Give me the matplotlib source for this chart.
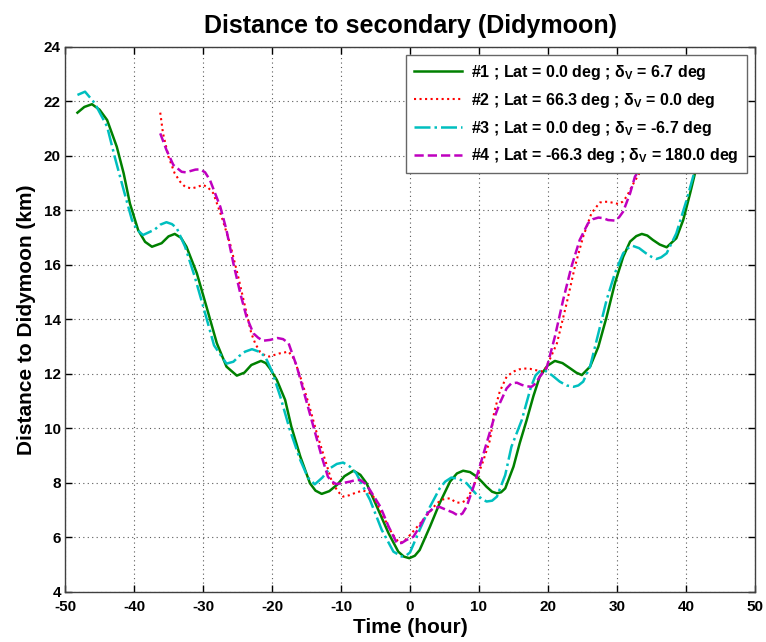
import matplotlib
matplotlib.use('Agg')
import matplotlib.pyplot as plt

# ---------------- DATA ((hour, km)) ----------------
case1 = [(-48.2, 21.59), (-47.2, 21.80), (-46.1, 21.90), (-45.0, 21.70), (-43.9, 21.32),
         (-42.5, 20.34), (-41.5, 19.36), (-40.6, 18.26), (-39.4, 17.28), (-38.4, 16.85),
         (-37.4, 16.67), (-36.0, 16.80), (-35.0, 17.05), (-34.1, 17.14), (-33.2, 17.00),
         (-32.4, 16.67), (-30.9, 15.70), (-29.5, 14.47), (-28.0, 13.13), (-26.6, 12.27),
         (-25.1, 11.94), (-24.0, 12.05), (-23.0, 12.33), (-21.6, 12.48), (-20.9, 12.40),
         (-20.3, 12.20), (-19.3, 11.78), (-18.1, 11.05), (-17.2, 10.07), (-15.9, 8.97),
         (-14.5, 7.99), (-13.7, 7.72), (-12.8, 7.60), (-11.7, 7.70), (-10.5, 7.95),
         (-9.5, 8.25), (-8.2, 8.45), (-7.2, 8.30), (-6.3, 7.99), (-4.8, 7.13),
         (-3.1, 6.15), (-1.7, 5.48), (-0.9, 5.30), (-0.1, 5.24), (0.7, 5.33),
         (1.4, 5.54), (2.9, 6.40), (4.3, 7.26), (5.8, 8.05), (6.8, 8.35),
         (7.7, 8.45), (8.7, 8.40), (9.7, 8.23), (10.4, 8.05), (11.1, 7.86),
         (11.9, 7.68), (12.6, 7.62), (13.2, 7.66), (13.8, 7.80), (15.0, 8.60),
         (15.9, 9.46), (16.9, 10.30), (17.9, 11.20), (18.8, 11.90), (19.9, 12.30),
         (21.0, 12.48), (22.1, 12.40), (23.2, 12.21), (24.1, 12.05), (24.9, 11.96),
         (26.1, 12.27), (27.3, 13.00), (28.5, 14.10), (29.7, 15.33), (30.9, 16.30),
         (31.9, 16.86), (32.8, 17.06), (33.6, 17.14), (34.4, 17.08), (35.2, 16.92),
         (36.2, 16.75), (37.2, 16.65), (38.6, 16.98), (39.6, 17.65), (40.6, 18.63),
         (41.3, 19.36), (42.5, 20.40), (44.0, 21.30), (46.0, 21.90), (48.0, 21.60)]

case2 = [(-36.2, 21.59), (-35.8, 20.83), (-35.0, 19.97), (-34.1, 19.36), (-33.3, 19.05),
         (-32.6, 18.87), (-31.7, 18.81), (-31.0, 18.85), (-30.0, 18.94), (-29.3, 18.85),
         (-28.5, 18.63), (-27.3, 17.77), (-26.1, 16.80), (-24.9, 15.57), (-23.9, 14.47),
         (-23.0, 13.49), (-22.4, 13.10), (-21.7, 12.80), (-21.0, 12.68), (-20.4, 12.64),
         (-19.0, 12.75), (-17.6, 12.82), (-16.8, 12.55), (-15.9, 11.90), (-14.7, 10.92),
         (-13.5, 9.82), (-12.3, 8.84), (-11.4, 8.11), (-10.5, 7.70), (-9.7, 7.50),
         (-8.8, 7.55), (-7.7, 7.66), (-6.8, 7.72), (-6.0, 7.66), (-5.3, 7.50),
         (-4.1, 6.89), (-2.9, 6.28), (-2.2, 6.00), (-1.5, 5.79), (-0.8, 5.88),
         (0.0, 6.09), (1.9, 6.64), (3.9, 7.26), (4.8, 7.40), (5.8, 7.44),
         (6.3, 7.35), (6.8, 7.28), (7.5, 7.28), (8.2, 7.38), (9.2, 7.86),
         (10.6, 8.80), (11.6, 9.58), (12.2, 10.60), (13.0, 11.35), (14.0, 11.90),
         (15.0, 12.09), (15.8, 12.17), (16.7, 12.20), (17.4, 12.19), (18.0, 12.15),
         (18.7, 12.12), (19.3, 12.09), (19.8, 12.27), (21.3, 13.13), (22.7, 14.59),
         (23.9, 15.94), (25.1, 17.04), (26.3, 17.90), (27.5, 18.29), (28.0, 18.32),
         (28.7, 18.32), (29.5, 18.28), (30.2, 18.24), (30.8, 18.32), (31.4, 18.51),
         (32.4, 19.00), (33.1, 19.30), (34.5, 20.00), (36.0, 21.00)]

case3 = [(-48.2, 22.24), (-47.1, 22.36), (-45.7, 21.94), (-43.9, 21.08), (-42.8, 19.97),
         (-41.5, 18.75), (-40.3, 17.65), (-39.6, 17.30), (-38.7, 17.10), (-37.0, 17.30),
         (-36.2, 17.48), (-35.3, 17.57), (-34.5, 17.50), (-33.8, 17.35), (-32.6, 16.67),
         (-31.2, 15.57), (-29.7, 14.23), (-28.4, 13.05), (-26.6, 12.38), (-25.6, 12.45),
         (-24.8, 12.65), (-23.9, 12.82), (-22.9, 12.91), (-21.9, 12.82), (-21.0, 12.64),
         (-20.0, 12.10), (-18.8, 11.17), (-17.4, 9.94), (-15.9, 8.84), (-14.8, 8.20),
         (-13.8, 7.95), (-12.7, 8.20), (-11.6, 8.54), (-10.6, 8.70), (-9.7, 8.75),
         (-8.7, 8.60), (-7.8, 8.36), (-5.8, 7.38), (-4.1, 6.28), (-2.4, 5.48),
         (-1.2, 5.30), (-0.6, 5.33), (0.0, 5.45), (1.4, 6.28), (2.9, 7.13),
         (4.3, 7.80), (5.1, 8.05), (6.0, 8.20), (7.1, 8.15), (8.2, 7.99),
         (9.7, 7.56), (10.4, 7.42), (11.1, 7.32), (11.9, 7.35), (12.6, 7.50),
         (13.8, 8.29), (14.7, 9.33), (16.2, 10.31), (17.5, 11.50), (18.2, 11.95),
         (18.8, 12.10), (19.6, 12.12), (20.6, 11.95), (21.7, 11.72), (22.7, 11.58),
         (23.7, 11.53), (24.4, 11.58), (25.1, 11.72), (26.1, 12.27), (27.3, 13.49),
         (28.5, 14.72), (29.7, 15.70), (30.9, 16.43), (31.6, 16.62), (32.3, 16.70),
         (33.2, 16.62), (34.2, 16.43), (35.0, 16.30), (35.7, 16.22), (36.4, 16.28),
         (37.2, 16.43), (38.6, 17.16), (40.1, 18.39), (41.1, 19.30), (42.5, 20.30),
         (44.0, 21.20), (46.0, 21.90), (48.0, 22.00)]

case4 = [(-36.2, 20.83), (-35.3, 20.22), (-34.3, 19.67), (-33.1, 19.42), (-32.5, 19.40),
         (-31.8, 19.45), (-31.1, 19.50), (-30.4, 19.51), (-29.7, 19.40), (-29.0, 19.12),
         (-27.5, 18.14), (-26.6, 17.28), (-25.6, 16.06), (-24.6, 14.96), (-23.7, 14.10),
         (-22.7, 13.49), (-22.0, 13.33), (-21.3, 13.22), (-20.3, 13.25), (-19.2, 13.32),
         (-18.4, 13.28), (-17.6, 13.13), (-16.4, 12.27), (-15.2, 11.17), (-14.0, 10.07),
         (-12.8, 8.97), (-11.9, 8.23), (-11.3, 8.05), (-10.7, 7.96), (-9.7, 8.00),
         (-8.7, 8.05), (-8.0, 8.10), (-7.2, 8.11), (-6.5, 7.98), (-5.8, 7.74),
         (-4.3, 7.13), (-3.1, 6.40), (-1.9, 5.79), (-1.2, 5.80), (-0.5, 5.91),
         (0.5, 6.03), (1.4, 6.40), (1.9, 6.64), (2.6, 6.90), (3.4, 7.08),
         (4.3, 7.12), (5.3, 7.01), (6.2, 6.92), (7.0, 6.80), (7.6, 6.88),
         (8.2, 7.13), (9.2, 7.86), (10.1, 8.60), (11.1, 9.46), (12.1, 10.31),
         (13.0, 10.92), (14.0, 11.47), (14.7, 11.66), (15.5, 11.68), (16.2, 11.60),
         (16.9, 11.55), (17.6, 11.53), (18.2, 11.65), (18.8, 11.90), (19.8, 12.21),
         (21.0, 13.37), (22.2, 14.72), (23.4, 15.94), (24.6, 16.92), (25.8, 17.53),
         (26.5, 17.68), (27.3, 17.74), (28.0, 17.72), (28.7, 17.65), (29.7, 17.63),
         (30.3, 17.75), (30.9, 17.96), (31.9, 18.63), (32.6, 19.24), (34.0, 19.80),
         (36.0, 20.90)]

labels = [r'#1 ; Lat = 0.0 deg ; $\delta_V$ = 6.7 deg',
          r'#2 ; Lat = 66.3 deg ; $\delta_V$ = 0.0 deg',
          r'#3 ; Lat = 0.0 deg ; $\delta_V$ = -6.7 deg',
          r'#4 ; Lat = -66.3 deg ; $\delta_V$ = 180.0 deg']

x_ticks = list(range(-50, 51, 10))
y_ticks = list(range(4, 25, 2))

# ---------------- STYLE ----------------
plt.rcParams['font.family'] = ['Liberation Sans', 'DejaVu Sans']
plt.rcParams['font.weight'] = 'bold'
plt.rcParams['axes.unicode_minus'] = False
plt.rcParams['mathtext.fontset'] = 'custom'
plt.rcParams['mathtext.rm'] = 'Liberation Sans'
plt.rcParams['mathtext.it'] = 'Liberation Sans'
plt.rcParams['mathtext.bf'] = 'Liberation Sans:bold'
plt.rcParams['mathtext.default'] = 'regular'

fig = plt.figure(figsize=(7.66, 6.42), dpi=100)
ax = fig.add_axes([0.0849, 0.0779, 0.9007, 0.8489])

styles = [
    dict(color='#008000', linestyle='-', linewidth=1.8),
    dict(color='#ff0000', linestyle=':', linewidth=1.5),
    dict(color='#00bfbf', linestyle='-.', linewidth=1.8),
    dict(color='#bf00bf', linestyle='--', linewidth=1.8),
]
for pts, st, lab in zip([case1, case2, case3, case4], styles, labels):
    t, d = zip(*pts)
    ax.plot(t, d, label=lab, **st)

ax.set_xlim(-50, 50)
ax.set_ylim(4, 24)
ax.set_xticks(x_ticks)
ax.set_yticks(y_ticks)
ax.tick_params(direction='in', top=True, right=True, length=5, width=1,
               labelsize=11, colors='k', pad=3)
ax.tick_params(axis='x', pad=6)
for lab in ax.get_xticklabels() + ax.get_yticklabels():
    lab.set_fontweight('bold')
for sp in ax.spines.values():
    sp.set_color('0.25')
    sp.set_linewidth(1)

ax.grid(True, color='0.35', linestyle=(0, (1, 3)), linewidth=0.8)

ax.set_title('Distance to secondary (Didymoon)', fontsize=18, fontweight='bold', pad=10)
ax.set_xlabel('Time (hour)', fontsize=15, fontweight='bold', labelpad=3)
ax.set_ylabel('Distance to Didymoon (km)', fontsize=15, fontweight='bold', labelpad=6)

leg = ax.legend(loc='upper right', fontsize=11.5, handlelength=3.0, labelspacing=0.55,
                fancybox=False, framealpha=1, edgecolor='0.4', borderaxespad=0.5,
                handletextpad=0.6, borderpad=0.5)
leg.get_frame().set_linewidth(1)
for txt in leg.get_texts():
    txt.set_fontweight('bold')

fig.savefig('out.png', dpi=100)
plt.close(fig)
